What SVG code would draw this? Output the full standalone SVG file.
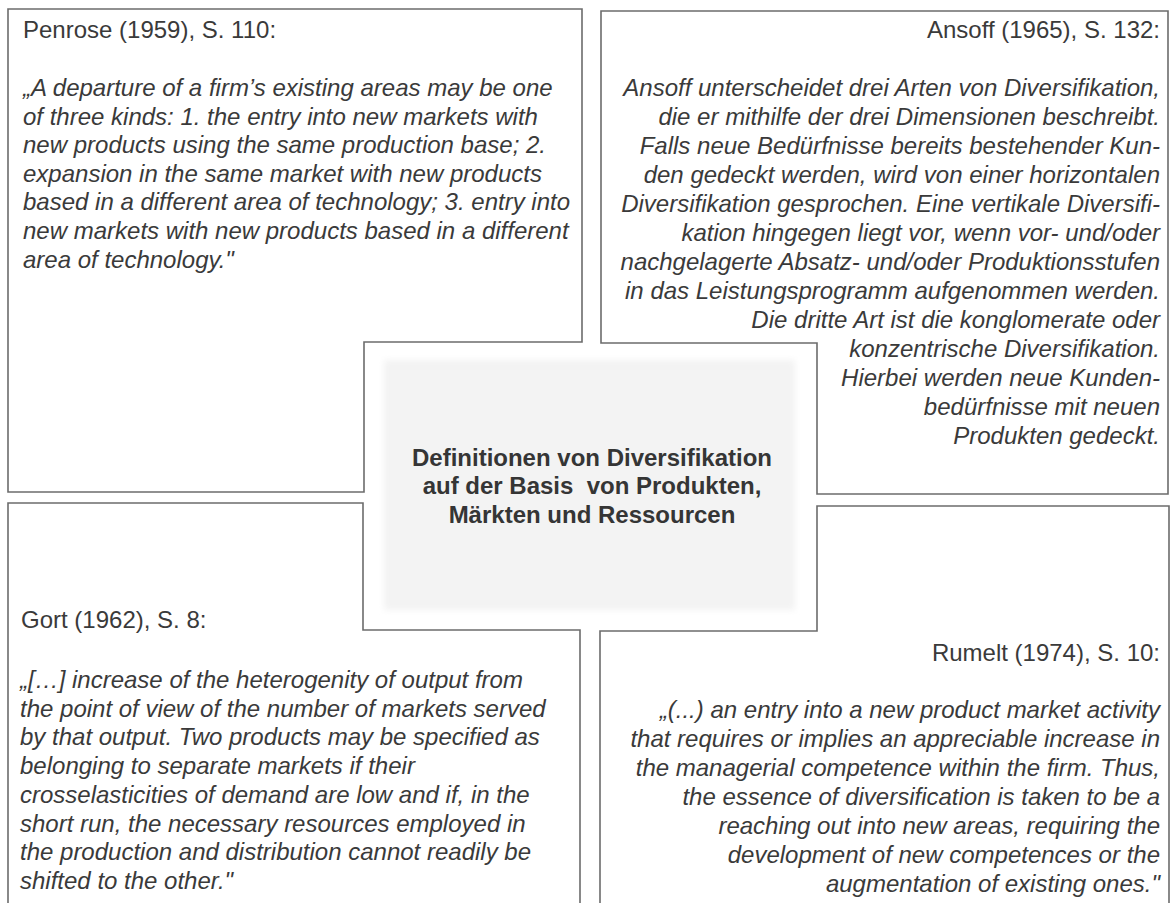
<svg xmlns="http://www.w3.org/2000/svg" width="1173" height="903" viewBox="0 0 1173 903">
<defs>
<filter id="soft" x="-5%" y="-5%" width="110%" height="110%"><feGaussianBlur stdDeviation="3"/></filter>
</defs>
<style>
.box{fill:none;stroke:#6c6c6c;stroke-width:1.6}
text{font-family:"Liberation Sans",Arial,sans-serif;font-size:24px;fill:#3a3a3a}
.q{font-style:italic}
.r{text-anchor:end}
.c{text-anchor:middle;font-weight:bold;fill:#353535}
</style>
<rect width="1173" height="903" fill="#ffffff"/>
<g id="center">
<rect x="384" y="360" width="411" height="250" fill="#f3f3f3" filter="url(#soft)"/>
<text class="c" x="592" y="466">Definitionen von Diversifikation</text>
<text class="c" x="592" y="494" style="white-space:pre">auf der Basis  von Produkten,</text>
<text class="c" x="592" y="523">Märkten und Ressourcen</text>
</g>
<g id="penrose">
<path class="box" d="M8 9 H582 V342 H364 V492 H8 Z"/>
<text x="23" y="38">Penrose (1959), S. 110:</text>
<g class="q">
<text x="23" y="96">„A departure of a firm’s existing areas may be one</text>
<text x="23" y="124.6">of three kinds: 1. the entry into new markets with</text>
<text x="23" y="153.2">new products using the same production base; 2.</text>
<text x="23" y="181.8">expansion in the same market with new products</text>
<text x="23" y="210.4">based in a different area of technology; 3. entry into</text>
<text x="23" y="239">new markets with new products based in a different</text>
<text x="23" y="267.6">area of technology."</text>
</g>
</g>
<g id="ansoff">
<path class="box" d="M601 11 H1168 V494 H817 V343 H601 Z"/>
<text class="r" x="1160" y="38">Ansoff (1965), S. 132:</text>
<g class="q">
<text class="r" x="1160" y="96">Ansoff unterscheidet drei Arten von Diversifikation,</text>
<text class="r" x="1160" y="125">die er mithilfe der drei Dimensionen beschreibt.</text>
<text class="r" x="1160" y="154">Falls neue Bedürfnisse bereits bestehender Kun-</text>
<text class="r" x="1160" y="183">den gedeckt werden, wird von einer horizontalen</text>
<text class="r" x="1160" y="212">Diversifikation gesprochen. Eine vertikale Diversifi-</text>
<text class="r" x="1160" y="241">kation hingegen liegt vor, wenn vor- und/oder</text>
<text class="r" x="1160" y="270">nachgelagerte Absatz- und/oder Produktionsstufen</text>
<text class="r" x="1160" y="299">in das Leistungsprogramm aufgenommen werden.</text>
<text class="r" x="1160" y="328">Die dritte Art ist die konglomerate oder</text>
<text class="r" x="1160" y="357">konzentrische Diversifikation.</text>
<text class="r" x="1160" y="386">Hierbei werden neue Kunden-</text>
<text class="r" x="1160" y="415">bedürfnisse mit neuen</text>
<text class="r" x="1160" y="444">Produkten gedeckt.</text>
</g>
</g>
<g id="gort">
<path class="box" d="M580 912 V630 H363 V503 H8 V912"/>
<text x="21" y="628">Gort (1962), S. 8:</text>
<g class="q">
<text x="20" y="688">„[…] increase of the heterogenity of output from</text>
<text x="20" y="716.7">the point of view of the number of markets served</text>
<text x="20" y="745.4">by that output. Two products may be specified as</text>
<text x="20" y="774.1">belonging to separate markets if their</text>
<text x="20" y="802.8">crosselasticities of demand are low and if, in the</text>
<text x="20" y="831.5">short run, the necessary resources employed in</text>
<text x="20" y="860.2">the production and distribution cannot readily be</text>
<text x="20" y="888.9">shifted to the other."</text>
</g>
</g>
<g id="rumelt">
<path class="box" d="M600 912 V631 H817 V506 H1169 V912"/>
<text class="r" x="1160" y="661">Rumelt (1974), S. 10:</text>
<g class="q">
<text class="r" x="1160" y="718">„(...) an entry into a new product market activity</text>
<text class="r" x="1160" y="747">that requires or implies an appreciable increase in</text>
<text class="r" x="1160" y="776">the managerial competence within the firm. Thus,</text>
<text class="r" x="1160" y="805">the essence of diversification is taken to be a</text>
<text class="r" x="1160" y="834">reaching out into new areas, requiring the</text>
<text class="r" x="1160" y="863">development of new competences or the</text>
<text class="r" x="1160" y="892">augmentation of existing ones."</text>
</g>
</g>
<g id="connectors"></g>
</svg>
